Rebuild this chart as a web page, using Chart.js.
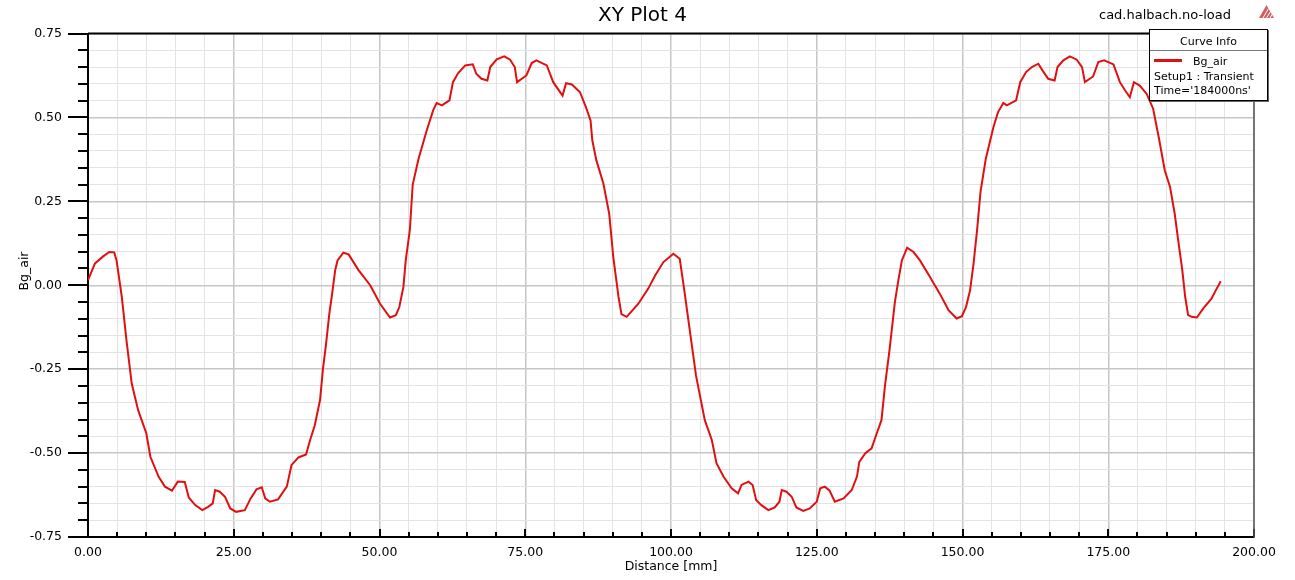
<!DOCTYPE html>
<html>
<head>
<meta charset="utf-8">
<title>XY Plot 4</title>
<script src="https://cdn.jsdelivr.net/npm/chart.js@4.4.1/dist/chart.umd.min.js"></script>
<style>
  body { margin: 0; background: #fff; }
  #wrap { position: relative; width: 1295px; height: 580px; font-family: 'DejaVu Sans', sans-serif; color: #000; overflow: hidden; }
  #plot { position: absolute; left: 0; top: 0; }
  .txt { position: absolute; white-space: nowrap; }
  #title { left: 0; width: 1285px; top: 4px; font-size: 20px; line-height: 20px; text-align: center; }
  #design { left: 1099px; top: 7px; font-size: 13px; line-height: 16px; }
  #icon { position: absolute; left: 1259px; top: 5px; }
  #y-title { left: -6px; top: 264px; width: 60px; font-size: 12.5px; line-height: 14px; text-align: center; transform: rotate(-90deg); }
  #legend { position: absolute; left: 1149px; top: 29px; width: 117px; height: 70px; border: 1px solid #000; background: #fff; box-shadow: 1px 1px 0 #666; font-size: 11px; }
  #legend .txt { line-height: 14px; }
  #legend-head { left: 0; width: 100%; top: 5px; text-align: center; }
  #legend-sep { position: absolute; left: 0; top: 20px; width: 100%; height: 1px; background: #777; }
  #legend-sample { position: absolute; left: 4px; top: 29px; width: 28px; height: 3px; background: #e01010; }
</style>
</head>
<body>
<div id="wrap">
  <canvas id="plot" width="1295" height="580"></canvas>
  <div class="txt" id="title">XY Plot 4</div>
  <div class="txt" id="design">cad.halbach.no-load</div>
  <svg id="icon" width="15" height="13" viewBox="0 0 15 13">
    <polygon points="7.5,0 15,13 0,13" fill="#d06060"/>
    <path d="M4 13 L9.5 3.5 M7.5 13 L11.5 6.5 M11 13 L13.3 9" stroke="#fff" stroke-width="1"/>
  </svg>
  <div class="txt" id="y-title">Bg_air</div>
  <div id="legend">
    <div class="txt" id="legend-head">Curve Info</div>
    <div id="legend-sep"></div>
    <div id="legend-sample"></div>
    <div class="txt" style="left:43px;top:25px">Bg_air</div>
    <div class="txt" style="left:4px;top:40px">Setup1 : Transient</div>
    <div class="txt" style="left:4px;top:54px">Time='184000ns'</div>
  </div>
</div>
<script>
const $ = q => document.querySelector(q);

// Bg_air along the air gap
const distanceMm = [
    0, 1.2, 2.6, 3.65, 4.5, 4.9, 5.8, 6.6, 7.5, 8.6,
    10.0, 10.7, 12.1, 13.2, 14.4, 15.4, 16.6, 17.3, 18.4, 19.6,
    20.6, 21.4, 21.8, 22.6, 23.5, 24.4, 25.4, 26.9, 27.9, 28.9,
    29.8, 30.4, 31.2, 32.6, 34.1, 34.9, 36.1, 37.4, 38.1, 38.9,
    39.8, 40.3, 40.8, 41.4, 41.8, 42.4, 42.8, 43.8, 44.7, 46.4,
    48.4, 50.1, 51.8, 52.8, 53.4, 54.1, 54.5, 55.2, 55.7, 56.7,
    58.1, 59.2, 59.8, 60.7, 62.0, 62.6, 63.5, 64.7, 66.0, 66.6,
    67.5, 68.5, 69.0, 70.1, 71.4, 72.4, 73.2, 73.6, 75.2, 76.1,
    76.9, 78.7, 79.8, 81.4, 82.0, 83.0, 84.4, 85.5, 86.2, 86.5,
    87.2, 88.4, 89.4, 90.1, 91.0, 91.5, 92.4, 94.4, 96.1, 97.3,
    98.7, 100.4, 101.5, 102.2, 103.3, 104.3, 105.8, 107.0, 107.8, 109.0,
    110.4, 111.5, 112.1, 113.3, 114.0, 114.6, 115.5, 116.7, 117.8, 118.6,
    119.0, 119.8, 120.7, 121.5, 122.7, 123.8, 125.0, 125.6, 126.4, 127.2,
    128.1, 129.6, 131.0, 131.9, 132.3, 133.3, 134.4, 135.3, 136.1, 136.7,
    137.5, 138.4, 139.0, 139.6, 140.5, 141.6, 142.7, 144.4, 146.1, 147.6,
    149.0, 149.9, 150.6, 151.3, 151.9, 152.5, 153.1, 154.0, 155.3, 156.1,
    157.0, 157.6, 159.2, 159.9, 160.9, 161.9, 163.0, 163.8, 164.7, 165.8,
    166.3, 167.3, 168.4, 169.6, 170.5, 171.0, 172.4, 173.3, 174.3, 175.9,
    177.0, 177.9, 178.7, 179.4, 180.4, 181.6, 182.7, 183.7, 184.7, 185.6,
    186.4, 187.0, 187.7, 188.2, 188.7, 189.3, 190.2, 191.3, 192.7, 193.6,
    194.3
];
const bgAir = [
    0.015, 0.065, 0.086, 0.099, 0.098, 0.074, -0.035, -0.164, -0.293, -0.372,
    -0.441, -0.511, -0.570, -0.600, -0.612, -0.585, -0.586, -0.633, -0.655, -0.670,
    -0.660, -0.650, -0.610, -0.615, -0.630, -0.665, -0.675, -0.670, -0.635, -0.608,
    -0.602, -0.635, -0.645, -0.638, -0.600, -0.536, -0.513, -0.504, -0.461, -0.417,
    -0.342, -0.250, -0.180, -0.084, -0.035, 0.045, 0.074, 0.097, 0.092, 0.045,
    0.000, -0.055, -0.096, -0.089, -0.065, -0.005, 0.074, 0.164, 0.300, 0.377,
    0.461, 0.521, 0.543, 0.536, 0.551, 0.605, 0.632, 0.655, 0.658, 0.630,
    0.615, 0.610, 0.650, 0.673, 0.682, 0.672, 0.650, 0.605, 0.625, 0.662,
    0.670, 0.655, 0.605, 0.565, 0.602, 0.598, 0.575, 0.526, 0.491, 0.432,
    0.372, 0.303, 0.213, 0.084, -0.035, -0.086, -0.094, -0.055, -0.010, 0.030,
    0.069, 0.094, 0.079, -0.005, -0.144, -0.270, -0.402, -0.461, -0.530, -0.570,
    -0.605, -0.620, -0.595, -0.585, -0.595, -0.640, -0.655, -0.670, -0.662, -0.645,
    -0.610, -0.615, -0.630, -0.662, -0.672, -0.665, -0.645, -0.605, -0.600, -0.612,
    -0.645, -0.635, -0.610, -0.570, -0.526, -0.501, -0.486, -0.441, -0.402, -0.300,
    -0.190, -0.050, 0.015, 0.074, 0.112, 0.099, 0.074, 0.025, -0.025, -0.074,
    -0.099, -0.092, -0.065, -0.015, 0.065, 0.164, 0.280, 0.377, 0.471, 0.516,
    0.543, 0.536, 0.551, 0.605, 0.635, 0.650, 0.660, 0.638, 0.615, 0.610,
    0.650, 0.670, 0.682, 0.672, 0.650, 0.605, 0.622, 0.665, 0.670, 0.658,
    0.605, 0.580, 0.560, 0.605, 0.595, 0.570, 0.526, 0.437, 0.342, 0.293,
    0.213, 0.134, 0.045, -0.035, -0.089, -0.094, -0.096, -0.069, -0.040, -0.010,
    0.012
];

// axis ranges: [min, max, minor step, labelled step]
const xAxis = [0, 200, 5, 25];
const yAxis = [-0.75, 0.75, 0.05, 0.25];

const fontFamily = 'DejaVu Sans';
const curveColor = '#e01010';
const minorGrid = '#e3e3e3';
const majorGrid = '#c6c6c6';

const isMajor = (v, step) => Math.abs(v / step - Math.round(v / step)) < 1e-6;

const gridOptions = step => ({
    drawTicks: false,
    color: ctx => isMajor(ctx.tick.value, step) ? majorGrid : minorGrid,
    lineWidth: ctx => isMajor(ctx.tick.value, step) ? 1.5 : 1
});

// the tick marks and the top / right frame of the plot
const plotFrame = {
    id: 'plotFrame',
    afterDraw(chart) {
        const { ctx, chartArea: a, scales: { x, y } } = chart;
        ctx.save();
        ctx.strokeStyle = '#000';
        ctx.lineWidth = 2;
        ctx.beginPath();
        y.ticks.forEach(t => {
            const py = Math.round(y.getPixelForValue(t.value));
            const len = isMajor(t.value, yAxis[3]) ? 20 : 10;
            ctx.moveTo(a.left - len, py);
            ctx.lineTo(a.left, py);
        });
        x.ticks.forEach(t => {
            const px = Math.round(x.getPixelForValue(t.value));
            const len = isMajor(t.value, xAxis[3]) ? 8 : 5;
            ctx.moveTo(px, a.bottom);
            ctx.lineTo(px, a.bottom - len);
        });
        ctx.moveTo(a.left, a.top);
        ctx.lineTo(a.right, a.top);
        ctx.stroke();

        ctx.strokeStyle = '#555';
        ctx.lineWidth = 1.5;
        ctx.beginPath();
        ctx.moveTo(a.right, a.top);
        ctx.lineTo(a.right, a.bottom);
        ctx.stroke();
        ctx.restore();
    }
};

document.addEventListener('DOMContentLoaded', () => {
    new Chart($('#plot'), {
        type: 'scatter',
        data: {
            datasets: [
                {
                    label: 'Bg_air',
                    data: distanceMm.map((d, i) => ({ x: d, y: bgAir[i] })),
                    showLine: true,
                    borderColor: curveColor,
                    borderWidth: 2,
                    pointRadius: 0,
                    tension: 0
                }
            ]
        },
        options: {
            responsive: false,
            animation: false,
            layout: { padding: { top: 32, right: 41, bottom: 0, left: 0 } },
            plugins: {
                legend: { display: false },
                tooltip: { enabled: false }
            },
            scales: {
                x: {
                    type: 'linear',
                    min: xAxis[0],
                    max: xAxis[1],
                    afterFit: s => { s.height = 43; },
                    grid: gridOptions(xAxis[3]),
                    border: { color: '#000', width: 2 },
                    ticks: {
                        stepSize: xAxis[2],
                        autoSkip: false,
                        maxRotation: 0,
                        padding: 8,
                        color: '#000',
                        font: { family: fontFamily, size: 12.5 },
                        callback: v => isMajor(v, xAxis[3]) ? v.toFixed(2) : ''
                    },
                    title: {
                        display: true,
                        text: 'Distance [mm]',
                        color: '#000',
                        font: { family: fontFamily, size: 12.5 },
                        padding: { top: 0, bottom: 6 }
                    }
                },
                y: {
                    min: yAxis[0],
                    max: yAxis[1],
                    afterFit: s => { s.width = 88; },
                    grid: gridOptions(yAxis[3]),
                    border: { color: '#000', width: 2 },
                    ticks: {
                        stepSize: yAxis[2],
                        autoSkip: false,
                        padding: 26,
                        color: '#000',
                        font: { family: fontFamily, size: 12.5 },
                        callback: v => isMajor(v, yAxis[3]) ? v.toFixed(2) : ''
                    }
                }
            }
        },
        plugins: [plotFrame]
    });
});
</script>
</body>
</html>
